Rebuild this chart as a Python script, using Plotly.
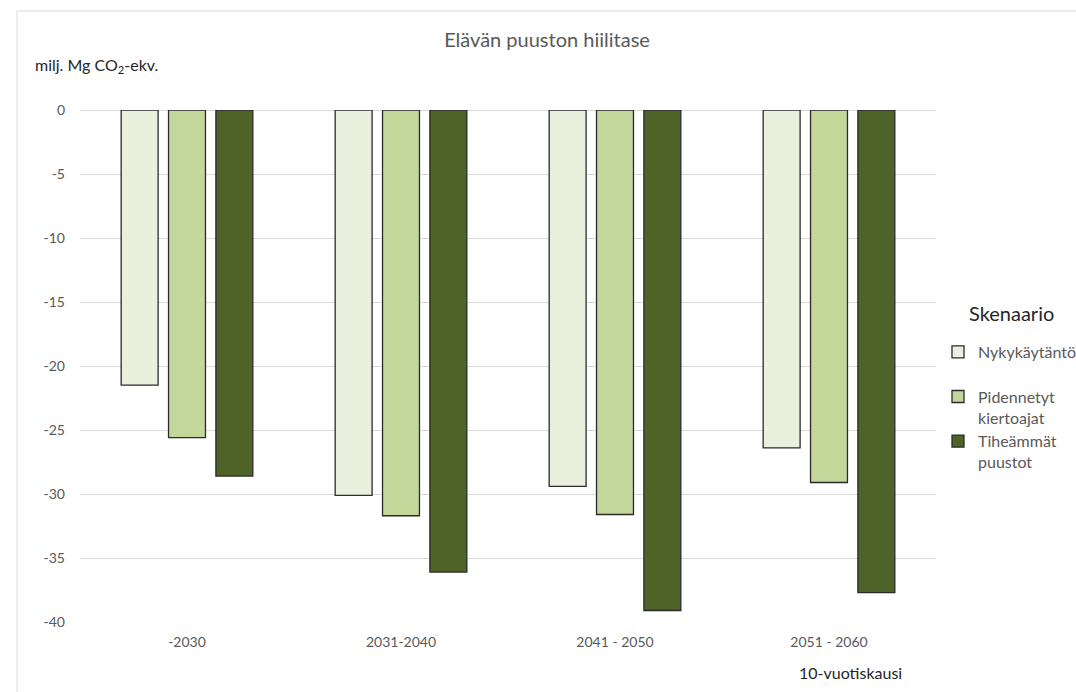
import plotly.graph_objects as go

categories = ["-2030", "2031-2040", "2041 - 2050", "2051 - 2060"]
nykykaytanto = [-21.5, -30.1, -29.4, -26.4]
pidennetyt = [-25.6, -31.7, -31.6, -29.1]
tiheammat = [-28.6, -36.1, -39.1, -37.7]
series_names = ["Nykykäytäntö<br> ", "Pidennetyt<br>kiertoajat", "Tiheämmät<br>puustot"]
colors = ["#EBF0DE", "#C4D79B", "#4F6228"]
y_ticks = [0, -5, -10, -15, -20, -25, -30, -35, -40]
y_tick_labels = ["0", "-5", "-10", "-15", "-20", "-25", "-30", "-35", "-40"]

fig = go.Figure()
for name, vals, col in zip(series_names, [nykykaytanto, pidennetyt, tiheammat], colors):
    fig.add_trace(go.Bar(
        x=categories, y=vals, name=name,
        marker=dict(color=col, line=dict(color="#2b2b2b", width=1.3)),
    ))

FONT = "Lato, Noto Sans, sans-serif"
fig.update_layout(
    width=1076, height=692,
    margin=dict(l=80, r=140, t=110, b=70, autoexpand=False),
    paper_bgcolor="white", plot_bgcolor="white",
    font=dict(family=FONT, color="#595959", size=14),
    barmode="group", bargap=0.336, bargroupgap=0.22,
    title=dict(text="Elävän puuston hiilitase", x=547 / 1076, xanchor="center",
               y=1 - 40 / 692, yanchor="middle", font=dict(size=20, color="#595959", family=FONT)),
    xaxis=dict(showgrid=False, showline=False, ticks="", ticklabelstandoff=10,
               tickfont=dict(size=14, color="#595959")),
    yaxis=dict(range=[-40, 0], tickvals=y_ticks, ticktext=y_tick_labels,
               showgrid=True, gridcolor="#d9d9d9", gridwidth=1,
               zeroline=True, zerolinecolor="#d9d9d9", zerolinewidth=1,
               showline=False, ticks="", ticklabelstandoff=14,
               tickfont=dict(size=14, color="#595959")),
    legend=dict(x=(938 - 80) / 856, y=(622 - 335) / 512, xanchor="left", yanchor="top",
                font=dict(size=16, color="#595959"), valign="top",
                bgcolor="rgba(0,0,0,0)", itemwidth=30),
    showlegend=True,
)
fig.add_annotation(text="Skenaario", xref="paper", yref="paper",
                   x=(967 - 80) / 856, y=(622 - 313) / 512, xanchor="left", yanchor="middle",
                   showarrow=False, font=dict(size=20, color="#262626", family=FONT))
fig.add_annotation(text="milj. Mg CO<sub>2</sub>-ekv.", xref="paper", yref="paper",
                   x=(33 - 80) / 856, y=(622 - 65) / 512, xanchor="left", yanchor="middle",
                   showarrow=False, font=dict(size=16, color="#262626", family=FONT))
fig.add_annotation(text="10-vuotiskausi", xref="paper", yref="paper",
                   x=(850 - 80) / 856, y=(622 - 672) / 512, xanchor="center", yanchor="middle",
                   showarrow=False, font=dict(size=16, color="#262626", family=FONT))
fig.add_shape(type="rect", xref="paper", yref="paper",
              x0=(17 - 80) / 856, x1=1.3, y0=-0.3, y1=(622 - 11) / 512,
              line=dict(color="#d9d9d9", width=1), layer="below")

fig.write_html("out.html")
